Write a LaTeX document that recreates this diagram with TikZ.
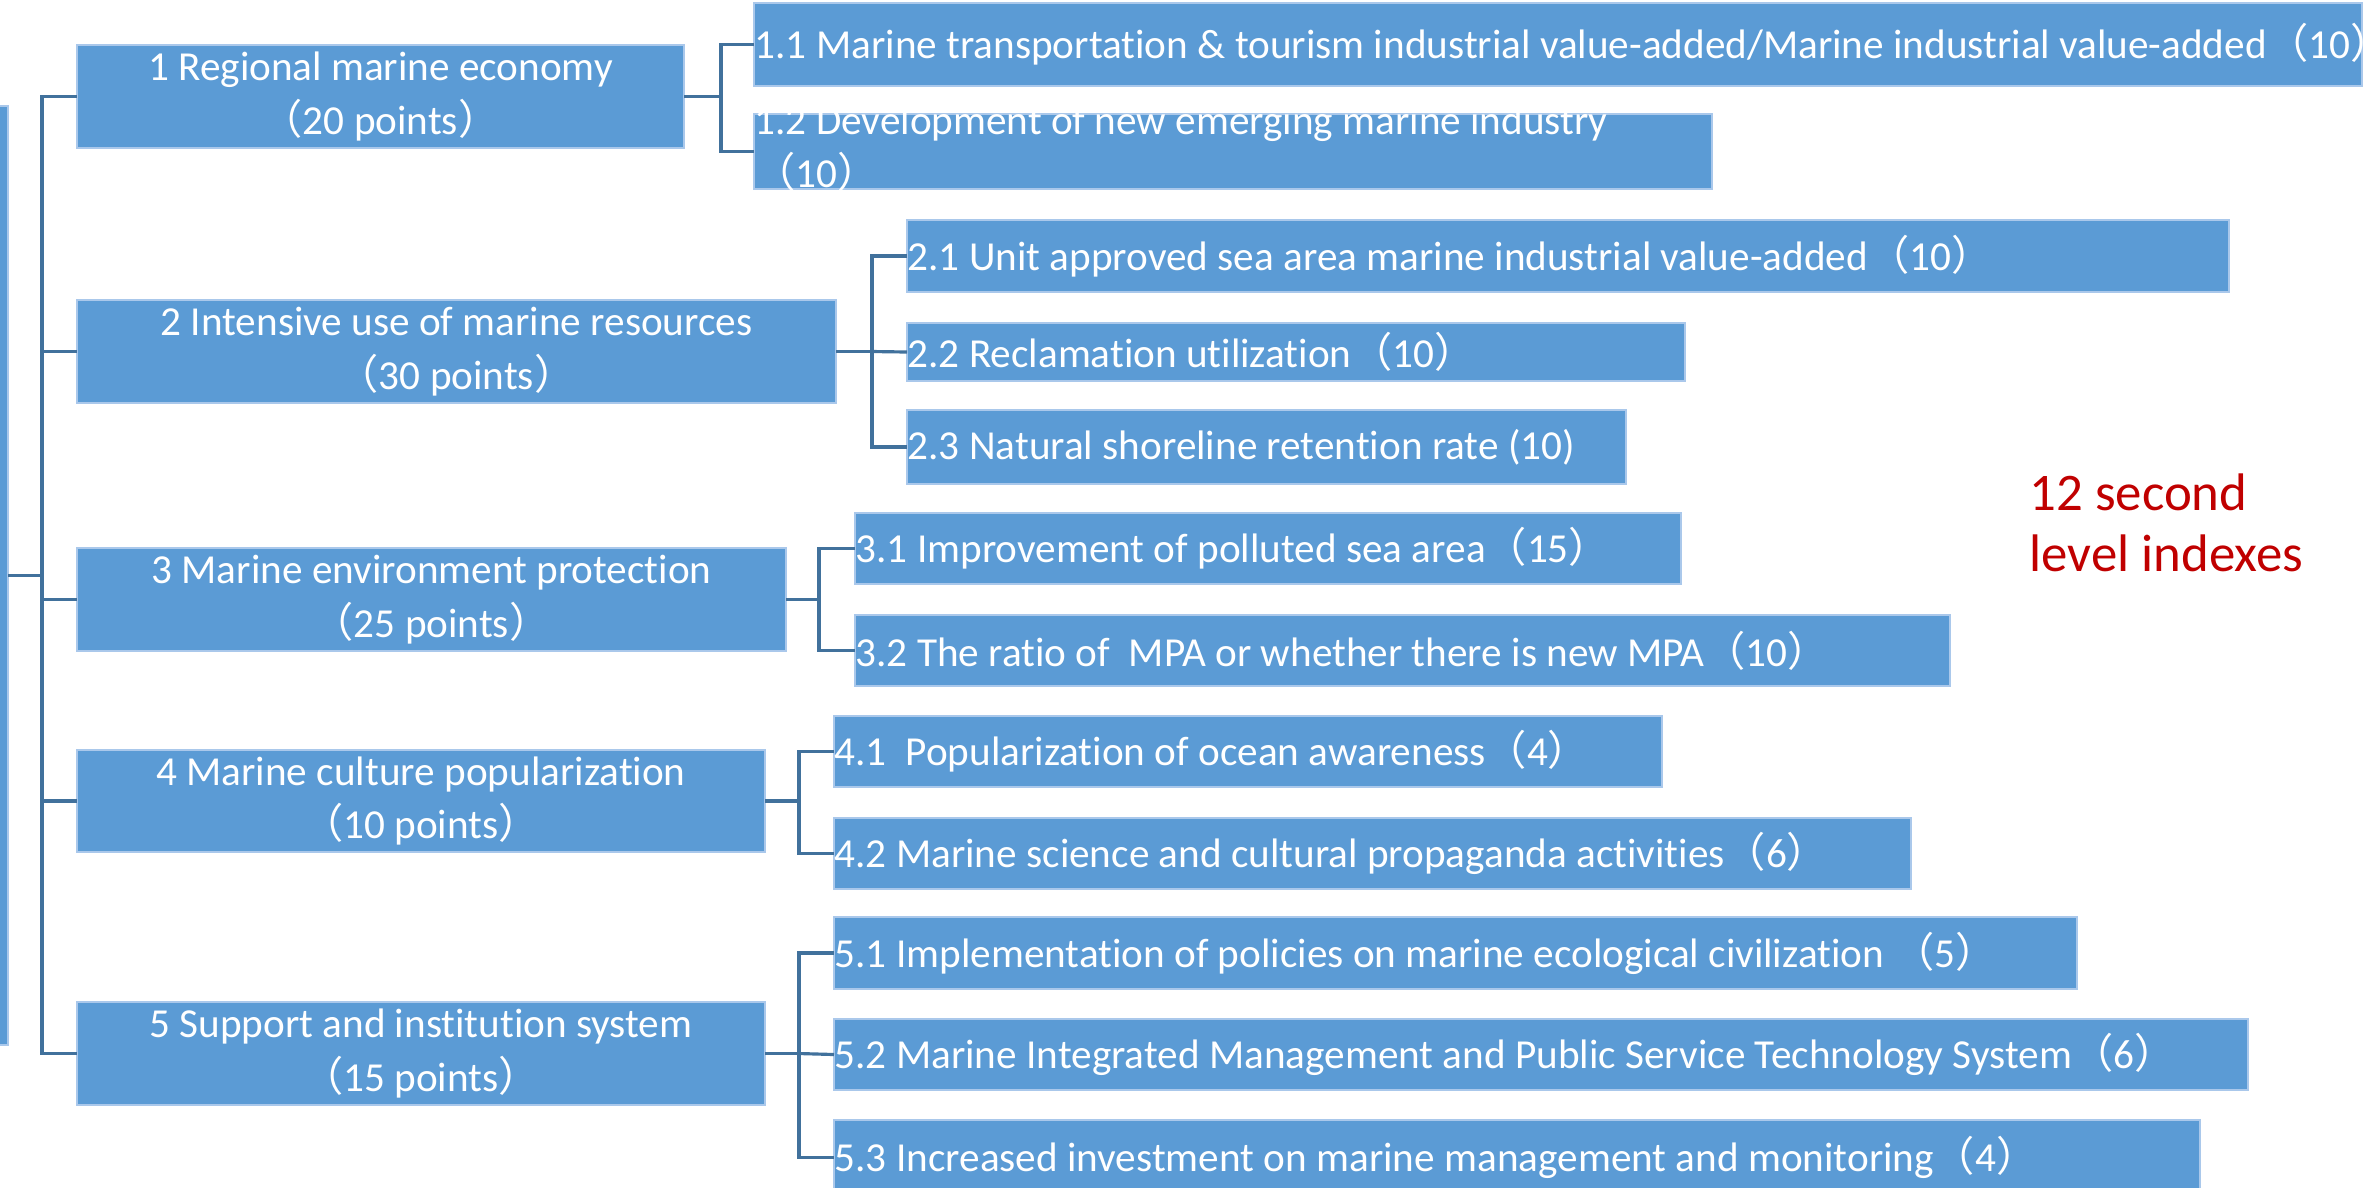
\documentclass[tikz,border=0pt]{standalone}
\usepackage{fontspec}
\setmainfont{Carlito}[Ligatures={NoCommon,NoContextual}]
\newfontfamily\cjkfont{Noto Sans CJK SC}
\newcommand\lp{{\cjkfont （}}
\newcommand\rp{{\cjkfont ）}}
\definecolor{boxblue}{RGB}{91,155,213}
\definecolor{boxedge}{RGB}{170,200,235}
\definecolor{connblue}{RGB}{65,113,156}
\definecolor{notered}{RGB}{192,0,0}
\newcommand\bx[5]{\node[boxstyle, anchor=north west, minimum width={(#4-#2)*0.2839pt}, minimum height={(#5-#3)*0.2839pt}] (#1) at (#2,#3) {};}
\tikzset{
  boxstyle/.style={rectangle, fill=boxblue, draw=boxedge, line width=0.4pt, inner sep=0pt, outer sep=0pt},
  lvone/.style={text=white, align=center, inner sep=0pt, font=\fontsize{11.7}{15.2}\selectfont},
  lvtwo/.style={text=white, align=left, anchor=west, inner sep=0pt, font=\fontsize{11.7}{15}\selectfont},
  conn/.style={draw=connblue, line width=0.9pt},
  notetext/.style={text=notered, align=left, inner sep=0pt, font=\fontsize{15}{17.3}\selectfont}
}
\begin{document}
\begin{tikzpicture}[x=0.2839pt, y=-0.2839pt]
\useasboundingbox (0,0) rectangle (2374,1187);
\fill[white] (0,0) rectangle (2374,1187);
% root
\bx{root}{-10}{106}{8}{1045}
% level one
\bx{b1}{77}{45}{684}{148}
\bx{b2}{77}{300}{836}{403}
\bx{b3}{77}{548}{786}{651}
\bx{b4}{77}{750}{765}{852}
\bx{b5}{77}{1002}{765}{1105}
\node[lvone] (b1t) at (b1.center) {1 Regional marine economy\\\lp 20 points\rp};
\node[lvone] (b2t) at (b2.center) {2 Intensive use of marine resources\\\lp 30 points\rp};
\node[lvone] (b3t) at (b3.center) {3 Marine environment protection\\\lp 25 points\rp};
\node[lvone] (b4t) at (b4.center) {4 Marine culture popularization\\\lp 10 points\rp};
\node[lvone] (b5t) at (b5.center) {5 Support and institution system\\\lp 15 points\rp};
% level two
\bx{s11}{754}{3}{2362}{86}
\bx{s12}{754}{114}{1712}{189}
\bx{s21}{907}{220}{2229}{292}
\bx{s22}{907}{323}{1685}{381}
\bx{s23}{907}{410}{1626}{484}
\bx{s31}{855}{513}{1681}{584}
\bx{s32}{855}{615}{1950}{686}
\bx{s41}{834}{716}{1662}{787}
\bx{s42}{834}{818}{1911}{889}
\bx{s51}{834}{917}{2077}{989}
\bx{s52}{834}{1019}{2248}{1090}
\bx{s53}{834}{1120}{2200}{1195}
\node[lvtwo] (s11t) at (s11.west) {1.1 Marine transportation \& tourism industrial value-added/Marine industrial value-added\lp 10\rp};
\node[lvtwo, anchor=north west] (s12t) at (754,105) {1.2 Development of new emerging marine industry\\\lp 10\rp};
\node[lvtwo] (s21t) at (s21.west) {2.1 Unit approved sea area marine industrial value-added\lp 10\rp};
\node[lvtwo] (s22t) at (s22.west) {2.2 Reclamation utilization\lp 10\rp};
\node[lvtwo] (s23t) at (s23.west) {2.3 Natural shoreline retention rate (10)};
\node[lvtwo] (s31t) at (s31.west) {3.1 Improvement of polluted sea area\lp 15\rp};
\node[lvtwo] (s32t) at (s32.west) {3.2 The ratio of\ \ MPA or whether there is new MPA\lp 10\rp};
\node[lvtwo] (s41t) at (s41.west) {4.1\ \ Popularization of ocean awareness\lp 4\rp};
\node[lvtwo] (s42t) at (s42.west) {4.2 Marine science and cultural propaganda activities\lp 6\rp};
\node[lvtwo] (s51t) at (s51.west) {5.1 Implementation of policies on marine ecological civilization \lp 5\rp};
\node[lvtwo] (s52t) at (s52.west) {5.2 Marine Integrated Management and Public Service Technology System\lp 6\rp};
\node[lvtwo] (s53t) at (s53.west) {5.3 Increased investment on marine management and monitoring\lp 4\rp};
% connectors root
\coordinate (t) at (42,575.5);
\draw[conn] (root.east) -- (t);
\draw[conn] (b1.west) -| (t) |- (b5.west);
\draw[conn] (t |- b2.west) -- (b2.west);
\draw[conn] (t |- b3.west) -- (b3.west);
\draw[conn] (t |- b4.west) -- (b4.west);
% group 1
\coordinate (j1) at (721,96.5);
\draw[conn] (b1.east) -- (j1);
\draw[conn] (s11.west) -| (j1) |- (s12.west);
% group 2
\coordinate (j2) at (872,351.5);
\draw[conn] (b2.east) -- (j2);
\draw[conn] (s21.west) -| (j2) |- (s23.west);
\draw[conn] (j2) -- (s22.west);
% group 3
\coordinate (j3) at (819,599.5);
\draw[conn] (b3.east) -- (j3);
\draw[conn] (s31.west) -| (j3) |- (s32.west);
% group 4
\coordinate (j4) at (799,801);
\draw[conn] (b4.east) -- (j4);
\draw[conn] (s41.west) -| (j4) |- (s42.west);
% group 5
\coordinate (j5) at (799,1053.5);
\draw[conn] (b5.east) -- (j5);
\draw[conn] (s51.west) -| (j5) |- (s53.west);
\draw[conn] (j5) -- (s52.west);
% note
\node[notetext, anchor=north west] (note) at (2029,473) {12 second\\level indexes};
\end{tikzpicture}
\end{document}
